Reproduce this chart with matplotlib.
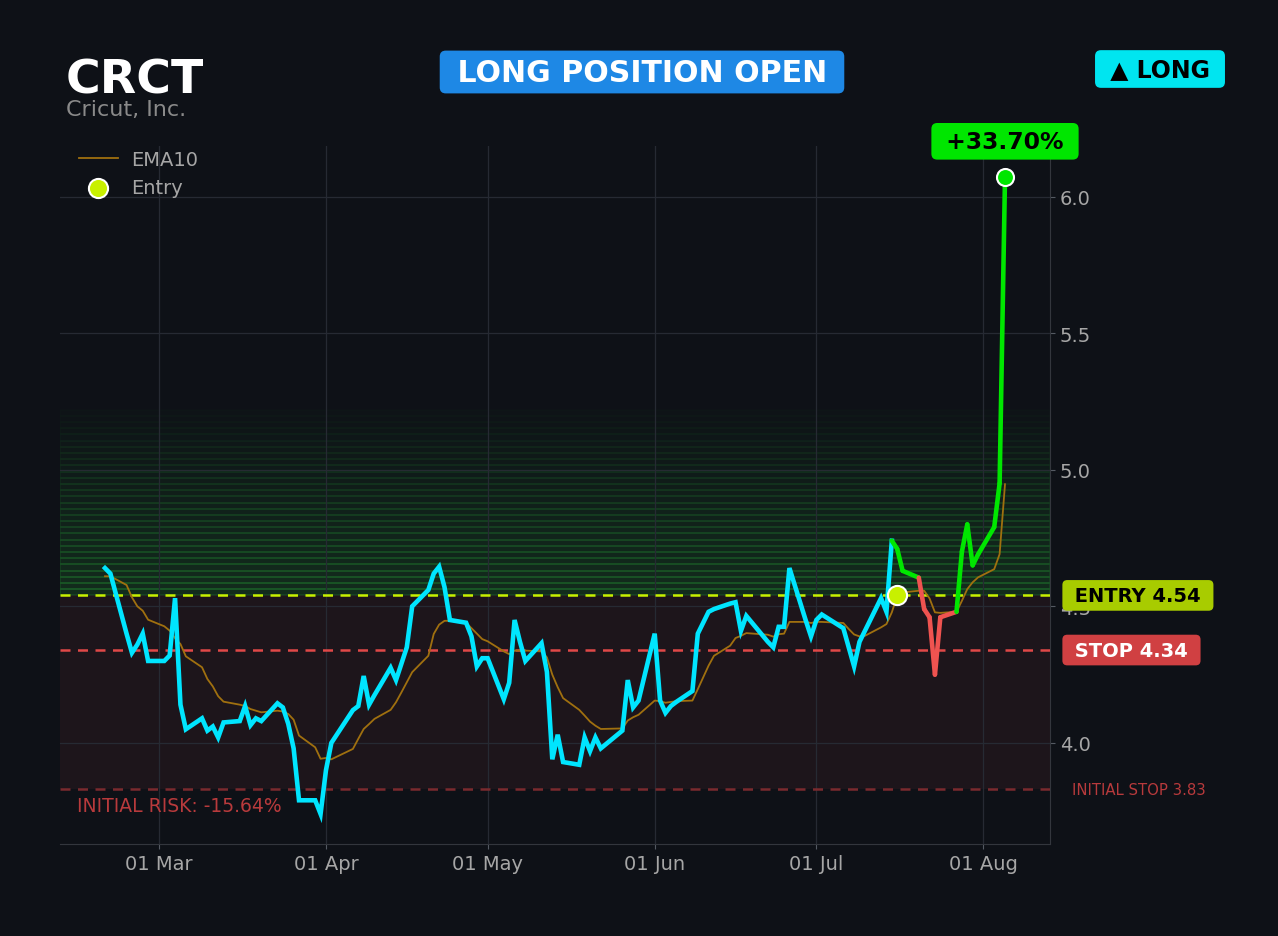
import numpy as np
import pandas as pd
import matplotlib
matplotlib.use("Agg")
import matplotlib.pyplot as plt
import matplotlib.dates as mdates
from matplotlib.transforms import blended_transform_factory

# -- trade setup
ticker = "CRCT"
company = "Cricut, Inc."
entry_price = 4.54
stop_price = 4.34
init_stop = 3.83
target_price = 5.22
entry_date = pd.Timestamp("2026-07-16")

# -- trading days (US market holidays dropped)
holidays = pd.to_datetime(["2026-04-03", "2026-05-25", "2026-06-19", "2026-07-03"])
dates = pd.bdate_range("2026-02-19", "2026-08-05")
dates = dates[~dates.isin(holidays)]

# -- closing prices
close = [4.64, 4.62, 4.40, 4.33, 4.36, 4.40, 4.30,                          # feb
         4.30, 4.32, 4.53, 4.14, 4.05, 4.09, 4.045, 4.06, 4.02, 4.075,
         4.08, 4.135, 4.065, 4.09, 4.08, 4.145, 4.13, 4.07, 3.98, 3.79,
         3.79, 3.74,                                                        # mar
         3.90, 4.00, 4.12, 4.135, 4.245, 4.14, 4.175, 4.275, 4.23, 4.29,
         4.35, 4.50, 4.56, 4.62, 4.645, 4.57, 4.45, 4.44, 4.39, 4.28, 4.31,  # apr
         4.31, 4.16, 4.22, 4.45, 4.37, 4.30, 4.365, 4.26, 3.94, 4.03, 3.93,
         3.92, 4.02, 3.97, 4.02, 3.98, 4.045, 4.23, 4.13, 4.155,            # may
         4.40, 4.155, 4.11, 4.135, 4.15, 4.19, 4.40, 4.44, 4.48, 4.49, 4.51,
         4.515, 4.41, 4.465, 4.37, 4.35, 4.425, 4.425, 4.64, 4.45, 4.39,    # jun
         4.45, 4.47, 4.42, 4.35, 4.28, 4.37, 4.41, 4.53, 4.48, 4.74, 4.71,
         4.63, 4.605, 4.49, 4.46, 4.25, 4.46, 4.48, 4.70, 4.80, 4.65, 4.69, # jul
         4.79, 4.95, 6.07]                                                  # aug

ema10 = [4.61, 4.61, 4.578, 4.533, 4.50, 4.484, 4.451,
         4.427, 4.411, 4.383, 4.362, 4.317, 4.277, 4.234, 4.207, 4.171, 4.151,
         4.14, 4.135, 4.124, 4.118, 4.112, 4.118, 4.115, 4.106, 4.085, 4.027,
         3.984, 3.942,
         3.945, 3.94, 3.978, 4.015, 4.051, 4.069, 4.088, 4.121, 4.149, 4.185,
         4.222, 4.259, 4.319, 4.399, 4.433, 4.447, 4.447, 4.44, 4.42, 4.40, 4.38,
         4.372, 4.335, 4.325, 4.338, 4.338, 4.338, 4.335, 4.313, 4.25, 4.204,
         4.164, 4.121, 4.10, 4.078, 4.063, 4.051, 4.053, 4.082, 4.094, 4.103,
         4.155, 4.153, 4.147, 4.15, 4.153, 4.155, 4.197, 4.24, 4.283, 4.319,
         4.356, 4.384, 4.392, 4.402, 4.396, 4.389, 4.398, 4.40, 4.443, 4.443, 4.439,
         4.443, 4.443, 4.439, 4.417, 4.397, 4.39, 4.392, 4.423, 4.435, 4.478,
         4.539, 4.551, 4.557, 4.557, 4.529, 4.478, 4.476, 4.48, 4.52, 4.563,
         4.588, 4.606,
         4.636, 4.691, 4.947]

close = np.array(close)
ema10 = np.array(ema10)

# -- colours
bg = "#0e1117"
cyan = "#00e5ff"
green = "#00e600"
red = "#ef5350"
lime = "#c8f000"
gray = "#a6a6a6"

fig = plt.figure(figsize=(12.78, 9.37), dpi=100, facecolor=bg)
ax = fig.add_axes([60 / 1278, 1 - 845 / 937, 990 / 1278, 698 / 937])
ax.set_facecolor(bg)

# -- risk zone and reward gradient
ax.axhspan(init_stop, entry_price, color=red, alpha=0.07, lw=0, zorder=0)
nb = 30
edges = np.linspace(entry_price, target_price, nb + 1)
for k in range(nb):
    a = 0.14 * (1 - k / nb) + 0.006
    ax.axhspan(edges[k], edges[k + 1], color="#2ecc40", alpha=a, lw=1.4, zorder=0)

# -- reference lines
ax.axhline(entry_price, color=lime, ls=(0, (4, 3)), lw=1.8, zorder=3)
ax.axhline(stop_price, color="#e04848", ls=(0, (4, 3)), lw=1.8, zorder=3)
ax.axhline(init_stop, color="#7a2a2e", ls=(0, (4, 3)), lw=1.8, zorder=3)

# -- ema and price
ax.plot(dates, ema10, color="#a0700f", lw=1.3, zorder=4, label="EMA10")
ie = dates.get_loc(entry_date)
ax.plot(dates[:ie], close[:ie], color=cyan, lw=3.3, zorder=5,
        solid_joinstyle="miter")
for i in range(ie, len(close)):
    c = green if close[i] >= entry_price else red
    ax.plot(dates[i - 1:i + 1], close[i - 1:i + 1], color=c, lw=3.3, zorder=5,
            solid_capstyle="round")

ax.scatter([entry_date], [entry_price], s=190, color=lime, edgecolor="white",
           lw=1.5, zorder=7, label="Entry")
ax.scatter([dates[-1]], [close[-1]], s=150, color=green, edgecolor="white",
           lw=1.5, zorder=7)

pnl = (close[-1] / entry_price - 1) * 100
ax.annotate(f" +{pnl:.2f}% ", xy=(dates[-1], close[-1]), xytext=(0, 26),
            textcoords="offset points", ha="center", va="center",
            fontsize=16.9, fontweight="bold", color="black", zorder=8,
            bbox=dict(boxstyle="round,pad=0.29,rounding_size=0.25", fc=green, ec="none"),
            annotation_clip=False)

# -- right-hand labels
tr = blended_transform_factory(ax.transAxes, ax.transData)
ax.text(1.0184, entry_price, f" ENTRY {entry_price:.2f} ", transform=tr, ha="left",
        va="center", fontsize=14, fontweight="bold", color="black", zorder=10,
        clip_on=False,
        bbox=dict(boxstyle="round,pad=0.3,rounding_size=0.25", fc="#a8cc00", ec="none"))
ax.text(1.0184, stop_price, f" STOP {stop_price:.2f} ", transform=tr, ha="left",
        va="center", fontsize=14, fontweight="bold", color="white", zorder=10,
        clip_on=False,
        bbox=dict(boxstyle="round,pad=0.3,rounding_size=0.25", fc="#d04042", ec="none"))
ax.text(1.0222, init_stop, f"INITIAL STOP {init_stop:.2f}", transform=tr,
        ha="left", va="center", fontsize=10.7, color="#b83a3c", clip_on=False)
risk = (init_stop / entry_price - 1) * 100
ax.text(0.017, 3.77, f"INITIAL RISK: {risk:.2f}%", transform=tr, ha="left",
        va="center", fontsize=13.5, color="#b83a3c", zorder=8)

# -- axes styling
ax.set_ylim(3.63, 6.185)
ax.yaxis.tick_right()
ax.set_yticks([4.0, 4.5, 5.0, 5.5, 6.0])
ax.xaxis.set_major_locator(mdates.MonthLocator())
ax.xaxis.set_major_formatter(mdates.DateFormatter("%d %b"))
ax.tick_params(colors="#555a63", labelcolor=gray, labelsize=14)
ax.grid(True, color="#262a33", lw=0.9)
ax.set_axisbelow(True)
for s in ["left", "top"]:
    ax.spines[s].set_visible(False)
for s in ["right", "bottom"]:
    ax.spines[s].set_color("#33363d")

leg = ax.legend(loc="upper left", bbox_to_anchor=(0.011, 1.006), borderaxespad=0,
                frameon=False, fontsize=14, labelcolor=gray,
                handlelength=2.0, handletextpad=0.7)

# -- header
fig.text(66 / 1278, 1 - 94 / 937, ticker, fontsize=34, fontweight="bold",
         color="white", va="baseline")
fig.text(66 / 1278, 1 - 116 / 937, company, fontsize=16, color="#8a8a8a",
         va="baseline")
fig.text(642 / 1278, 1 - 73 / 937, " LONG POSITION OPEN ", fontsize=21.6,
         fontweight="bold", color="white", ha="center", va="center",
         bbox=dict(boxstyle="round,pad=0.23,rounding_size=0.2", fc="#1e88e5", ec="none"))
fig.text(1160 / 1278, 1 - 70 / 937, " ▲ LONG ", fontsize=17, fontweight="bold",
         color="black", ha="center", va="center",
         bbox=dict(boxstyle="round,pad=0.29,rounding_size=0.25", fc="#00e5f0", ec="none"))

fig.savefig("out.png", dpi=100, facecolor=bg)
